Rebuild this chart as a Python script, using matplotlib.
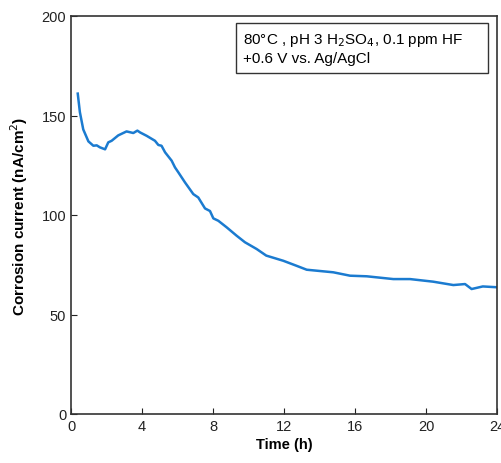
import numpy as np
import matplotlib.pyplot as plt
from matplotlib.patches import Rectangle

plt.rcParams['font.family'] = ['Liberation Sans', 'DejaVu Sans']

# valores
tiempo = [0.38, 0.5, 0.69, 0.98, 1.26, 1.45, 1.63, 1.92, 2.1, 2.29, 2.66, 3.13,
          3.51, 3.74, 3.89, 4.26, 4.73, 4.92, 5.1, 5.3, 5.67, 5.86, 6.05, 6.42,
          6.89, 7.17, 7.55, 7.83, 8.02, 8.3, 8.77, 9.33, 9.8, 10.46, 11.0,
          11.96, 12.7, 13.28, 14.78, 15.72, 16.66, 18.16, 19.1, 20.4, 21.54,
          22.2, 22.57, 23.2, 23.98]
corriente = [161, 151.7, 143, 137, 134.8, 135, 134, 133, 136.5, 137.3, 140, 142,
             141.2, 142.4, 141.5, 139.8, 137.3, 135.2, 134.8, 131.5, 127.3, 123.9,
             121.4, 116.4, 110.5, 108.8, 103.3, 102, 98.3, 97.1, 93.8, 89.6, 86.3,
             82.9, 79.6, 77, 74.5, 72.5, 71.2, 69.5, 69.2, 67.8, 67.8, 66.5, 64.8,
             65.3, 62.8, 64.1, 63.7]

xticks = [0, 4, 8, 12, 16, 20, 24]
yticks = [0, 50, 100, 150, 200]

fig = plt.figure(figsize=(5.02, 4.64), dpi=100)
ax = fig.add_axes([71/502, 1 - 415/464, 426/502, 398/464])

ax.plot(tiempo, corriente, color='#1b7bd0', lw=1.8)

ax.set_xlim(0, 24)
ax.set_ylim(0, 200)
ax.set_xticks(xticks)
ax.set_yticks(yticks)
ax.tick_params(direction='in', length=4, labelsize=10.5, colors='#222222',
               top=False, right=False)
for s in ax.spines.values():
    s.set_color('#333333')
    s.set_linewidth(1.2)

ax.set_xlabel('Time (h)', fontsize=10.5, fontweight='bold', labelpad=3)
ax.set_ylabel('Corrosion current (nA/cm$^2$)', fontsize=11, fontweight='bold', labelpad=8)

# recuadro con condiciones
ax.add_patch(Rectangle((0.387, 0.857), 0.592, 0.125, transform=ax.transAxes,
                       fc='white', ec='#333333', lw=1.0, zorder=3))
ax.text(0.404, 0.942, '80°C , pH 3 H$_2$SO$_4$, 0.1 ppm HF',
        transform=ax.transAxes, fontsize=11, va='center', ha='left', zorder=4)
ax.text(0.404, 0.894, '+0.6 V vs. Ag/AgCl',
        transform=ax.transAxes, fontsize=11, va='center', ha='left', zorder=4)

plt.savefig('out.png', dpi=100)
